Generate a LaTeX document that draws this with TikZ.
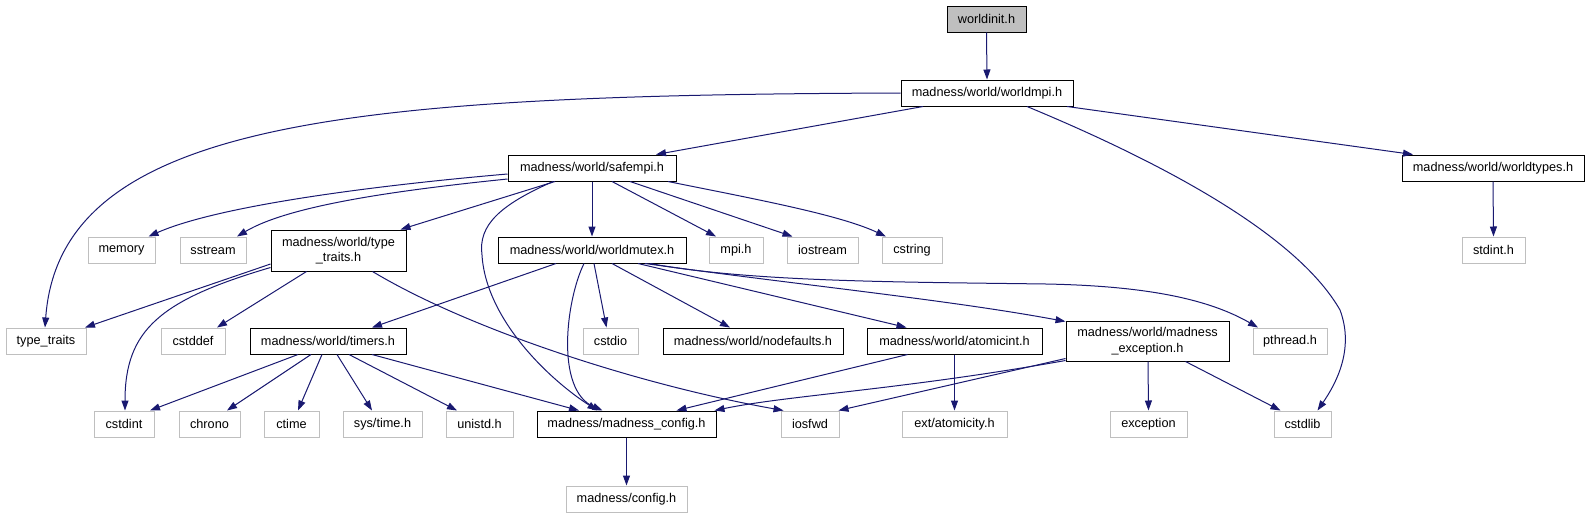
\documentclass[tikz,border=0pt]{standalone}
\usepackage{fontspec}
\setmainfont{Liberation Sans}
\usetikzlibrary{arrows.meta}
\definecolor{edgeblue}{HTML}{191970}
\definecolor{grayb}{HTML}{BFBFBF}
\begin{document}
\begin{tikzpicture}[x=1pt,y=-1pt,
  base/.style={rectangle, inner sep=0pt, minimum height=26pt, font=\fontsize{12.7}{15.5}\selectfont, align=center, text=black},
  blk/.style={base, draw=black, line width=1pt, fill=white},
  gry/.style={base, draw=grayb, line width=1pt, fill=white},
  rootbox/.style={blk, fill=grayb},
  dep/.style={draw=edgeblue, line width=1pt, -{Triangle[length=10pt,width=7pt]}}]
\useasboundingbox (0,0) rectangle (1589,517);
% row 0
\node[rootbox, minimum width=79pt] (worldinit) at (986.5,19) {worldinit.h};
% row 1
\node[blk, minimum width=172pt] (worldmpi) at (987,93) {madness/world/worldmpi.h};
% row 2
\node[blk, minimum width=168pt] (safempi) at (592,168) {madness/world/safempi.h};
\node[blk, minimum width=182pt] (worldtypes) at (1493,168) {madness/world/worldtypes.h};
% row 3
\node[gry, minimum width=67pt] (memory) at (121.5,250) {memory};
\node[gry, minimum width=66pt] (sstream) at (213,250) {sstream};
\node[blk, minimum width=135pt, minimum height=41pt] (typetraitsh) at (338.5,250.5) {madness/world/type\\\_traits.h};
\node[blk, minimum width=188pt] (worldmutex) at (592,250) {madness/world/worldmutex.h};
\node[gry, minimum width=54pt] (mpih) at (736,250) {mpi.h};
\node[gry, minimum width=71pt] (iostream) at (822.5,250) {iostream};
\node[gry, minimum width=60pt] (cstring) at (912,250) {cstring};
\node[gry, minimum width=63pt] (stdinth) at (1493.5,250) {stdint.h};
% row 4
\node[gry, minimum width=80pt] (typetraits) at (46,341) {type\_traits};
\node[gry, minimum width=64pt] (cstddef) at (193,341) {cstddef};
\node[blk, minimum width=156pt] (timers) at (328,341) {madness/world/timers.h};
\node[gry, minimum width=55pt] (cstdio) at (610.5,341) {cstdio};
\node[blk, minimum width=180pt] (nodefaults) at (753,341) {madness/world/nodefaults.h};
\node[blk, minimum width=175pt] (atomicint) at (954.5,341) {madness/world/atomicint.h};
\node[blk, minimum width=163pt, minimum height=40pt] (madexc) at (1147.5,341) {madness/world/madness\\\_exception.h};
\node[gry, minimum width=74pt] (pthread) at (1290,341) {pthread.h};
% row 5
\node[gry, minimum width=60pt] (cstdint) at (124,424) {cstdint};
\node[gry, minimum width=61pt] (chrono) at (209.5,424) {chrono};
\node[gry, minimum width=55pt] (ctime) at (291.5,424) {ctime};
\node[gry, minimum width=79pt] (systime) at (382.5,424) {sys/time.h};
\node[gry, minimum width=67pt] (unistd) at (479.5,424) {unistd.h};
\node[blk, minimum width=179pt] (madconfig) at (626.5,424) {madness/madness\_config.h};
\node[gry, minimum width=58pt] (iosfwd) at (810,424) {iosfwd};
\node[gry, minimum width=105pt] (extatom) at (954.5,424) {ext/atomicity.h};
\node[gry, minimum width=77pt] (exception) at (1148.5,424) {exception};
\node[gry, minimum width=57pt] (cstdlib) at (1302.5,424) {cstdlib};
% row 6
\node[gry, minimum width=121pt] (config) at (626.5,499) {madness/config.h};

% edges
\draw[dep] (worldinit.south) -- (worldmpi.north);
\draw[dep] (worldmpi.west) .. controls (350,95) and (60,120) .. ([xshift=-1pt]typetraits.north);
\draw[dep] ([xshift=-64pt]worldmpi.south) -- ([xshift=64pt]safempi.north);
\draw[dep] ([xshift=40pt]worldmpi.south) .. controls (1180,170) and (1300,240) .. (1340,310) .. controls (1355,350) and (1335,385) .. ([xshift=15pt]cstdlib.north);
\draw[dep] ([xshift=80pt]worldmpi.south) -- ([xshift=-80pt]worldtypes.north);
\draw[dep] (worldtypes.south) -- (stdinth.north);

\draw[dep] ([yshift=-6pt]safempi.west) .. controls (380,185) and (220,205) .. ([xshift=27pt]memory.north);
\draw[dep] ([yshift=-11pt]safempi.west) .. controls (400,190) and (290,205) .. ([xshift=24pt]sstream.north);
\draw[dep] ([xshift=-37pt]safempi.south) -- ([xshift=62pt]typetraitsh.north);
\draw[dep] ([xshift=-39pt]safempi.south) .. controls (500,205) and (478,225) .. (482,255) .. controls (486,320) and (550,380) .. ([xshift=-29pt]madconfig.north);
\draw[dep] (safempi.south) -- (worldmutex.north);
\draw[dep] ([xshift=20pt]safempi.south) -- ([xshift=-20pt]mpih.north);
\draw[dep] ([xshift=38pt]safempi.south) -- ([xshift=-30pt]iostream.north);
\draw[dep] ([xshift=76pt]safempi.south) .. controls (760,200) and (840,215) .. ([xshift=-26pt]cstring.north);

\draw[dep] ([yshift=-13.5pt]typetraitsh.west) -- ([xshift=39pt]typetraits.north);
\draw[dep] ([yshift=-17pt]typetraitsh.west) .. controls (160,300) and (125,330) .. ([xshift=1pt]cstdint.north);
\draw[dep] ([xshift=-32pt]typetraitsh.south) -- ([xshift=24pt]cstddef.north);
\draw[dep] ([xshift=34pt]typetraitsh.south) .. controls (470,330) and (640,385) .. ([xshift=3pt]iosfwd.north west);

\draw[dep] ([xshift=-36pt]worldmutex.south) -- ([xshift=44pt]timers.north);
\draw[dep] ([xshift=-8pt]worldmutex.south) .. controls (566,300) and (555,390) .. ([xshift=-24pt]madconfig.north);
\draw[dep] ([xshift=2pt]worldmutex.south) -- ([xshift=-4pt]cstdio.north);
\draw[dep] ([xshift=20pt]worldmutex.south) -- ([xshift=-23pt]nodefaults.north);
\draw[dep] ([xshift=46pt]worldmutex.south) -- ([xshift=-48pt]atomicint.north);
\draw[dep] ([xshift=53pt]worldmutex.south) .. controls (800,285) and (950,300) .. ([yshift=-1pt]madexc.north west);
\draw[dep] ([xshift=58pt]worldmutex.south) .. controls (750,282) and (900,282) .. (1046,284) .. controls (1150,286) and (1210,300) .. ([xshift=-32pt]pthread.north);

\draw[dep] ([xshift=-30pt]timers.south) -- ([xshift=26pt]cstdint.north);
\draw[dep] ([xshift=-17pt]timers.south) -- ([xshift=17.5pt]chrono.north);
\draw[dep] ([xshift=-6pt]timers.south) -- ([xshift=6.5pt]ctime.north);
\draw[dep] ([xshift=9pt]timers.south) -- ([xshift=-10.5pt]systime.north);
\draw[dep] ([xshift=21pt]timers.south) -- ([xshift=-22.5pt]unistd.north);
\draw[dep] ([xshift=44pt]timers.south) -- ([xshift=-47.5pt]madconfig.north);

\draw[dep] (madconfig.south) -- (config.north);

\draw[dep] ([xshift=-47pt]atomicint.south) -- ([xshift=50pt]madconfig.north);
\draw[dep] (atomicint.south) -- (extatom.north);
\draw[dep] ([yshift=1pt]madexc.south west) .. controls (900,390) and (790,395) .. ([xshift=-2pt]madconfig.north east);
\draw[dep] ([yshift=3pt]madexc.south west) -- ([xshift=-1pt]iosfwd.north east);
\draw[dep] ([xshift=0.5pt]madexc.south) -- (exception.north);
\draw[dep] ([xshift=38pt]madexc.south) -- ([xshift=-22pt]cstdlib.north);
\end{tikzpicture}
\end{document}
